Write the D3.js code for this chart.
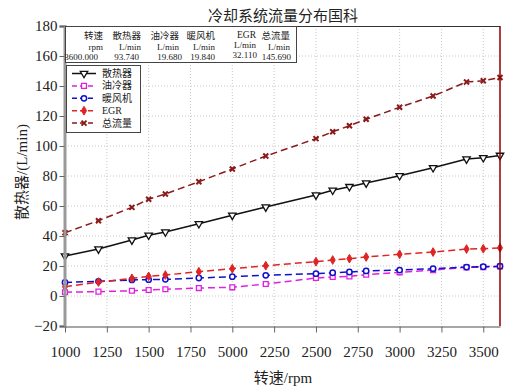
<!DOCTYPE html>
<html>
<head>
<meta charset="utf-8">
<script src="https://cdn.jsdelivr.net/npm/d3@7/dist/d3.min.js"></script>
<style>
  body { margin: 0; background: #fff; }
  text { font-family: "Liberation Serif", "DejaVu Serif", "Noto Sans CJK SC", serif; }
</style>
</head>
<body>
<svg></svg>
<script>
var svgWidth = 511;
var svgHeight = 392;

/* data */
var rpm = [1000, 1200, 1400, 1500, 1600, 1800, 2000, 2200, 2500, 2600, 2700, 2800, 3000, 3200, 3400, 3500, 3600];
var radiator = [26.7, 31.3, 37.3, 40.5, 42.7, 48.2, 53.8, 59.3, 67.3, 70.5, 72.9, 75.3, 80.2, 85.5, 91.3, 92.2, 93.74];
var oilCooler = [2.5, 2.9, 3.5, 4.0, 4.5, 5.3, 5.8, 8.0, 12.0, 12.7, 13.1, 14.2, 15.8, 17.3, 19.1, 19.3, 19.68];
var heater = [9.0, 9.8, 10.7, 10.9, 11.1, 12.0, 12.9, 13.8, 14.9, 15.5, 16.0, 16.7, 17.3, 18.2, 19.3, 19.5, 19.84];
var egr = [6.2, 9.3, 11.8, 13.1, 14.0, 16.2, 18.2, 20.2, 22.9, 24.0, 24.9, 26.0, 27.8, 29.3, 31.3, 31.5, 32.11];
var total = [42.2, 50.2, 59.1, 64.5, 68.0, 76.2, 84.7, 93.3, 104.9, 109.5, 113.5, 117.8, 125.8, 133.3, 142.7, 143.5, 145.69];

var xTicks = [1000, 1250, 1500, 1750, 2000, 2250, 2500, 2750, 3000, 3250, 3500];
var xTickLabels = ['1000', '1250', '1500', '1750', '5000', '2250', '2500', '2750', '3000', '3250', '3500'];
var yTicks = [-20, 0, 20, 40, 60, 80, 100, 120, 140, 160, 180];

/* table at top left */
var tableHead = ['转速', '散热器', '油冷器', '暖风机', 'EGR', '总流量'];
var tableUnit = ['rpm', 'L/min', 'L/min', 'L/min', 'L/min', 'L/min'];
var tableValue = ['3600.000', '93.740', '19.680', '19.840', '32.110', '145.690'];

var series = [
    { name: '散热器', values: radiator, color: '#111', dash: null, marker: 'tri' },
    { name: '油冷器', values: oilCooler, color: '#e020e0', dash: '7,4', marker: 'square' },
    { name: '暖风机', values: heater, color: '#1010cc', dash: '7,4', marker: 'circle' },
    { name: 'EGR', values: egr, color: '#e02424', dash: '7,4', marker: 'diamond' },
    { name: '总流量', values: total, color: '#8b1a1a', dash: '7,4', marker: 'x' }
];

var svg = d3.select('svg')
    .attr('width', svgWidth)
    .attr('height', svgHeight);

var x = d3.scaleLinear().domain([1000, 3600]).range([65, 500]);
var y = d3.scaleLinear().domain([-20, 180]).range([326, 26]);

/* grid */
svg.append('g').selectAll('line.gx')
    .data(xTicks.slice(1))
    .enter().append('line')
    .attr('x1', d => x(d)).attr('x2', d => x(d))
    .attr('y1', y(180)).attr('y2', y(-20))
    .attr('stroke', '#c8c8c8').attr('stroke-dasharray', '1,2');

svg.append('g').selectAll('line.gy')
    .data(yTicks.slice(1, -1))
    .enter().append('line')
    .attr('x1', x(1000)).attr('x2', x(3600))
    .attr('y1', d => y(d)).attr('y2', d => y(d))
    .attr('stroke', '#c8c8c8').attr('stroke-dasharray', '1,2');

/* marker path for one point */
function drawMarker(g, type, color){
    if(type === 'tri'){
        g.append('path').attr('d', d3.symbol(d3.symbolTriangle, 24)())
            .attr('transform', 'rotate(180)')
            .attr('fill', '#fff').attr('stroke', color).attr('stroke-width', 1.3);
    } else if(type === 'square'){
        g.append('path').attr('d', d3.symbol(d3.symbolSquare, 24)())
            .attr('fill', '#fff').attr('stroke', color).attr('stroke-width', 1.3);
    } else if(type === 'circle'){
        g.append('path').attr('d', d3.symbol(d3.symbolCircle, 22)())
            .attr('fill', '#fff').attr('stroke', color).attr('stroke-width', 1.5);
    } else if(type === 'diamond'){
        g.append('path').attr('d', d3.symbol(d3.symbolDiamond, 22)())
            .attr('fill', color).attr('stroke', color);
    } else {
        g.append('path').attr('d', 'M-2.5,-2.5L2.5,2.5M-2.5,2.5L2.5,-2.5')
            .attr('stroke', color).attr('stroke-width', 2).attr('fill', 'none');
    }
}

/* lines and markers */
var line = d3.line().x(d => x(d[0])).y(d => y(d[1]));

series.forEach(s => {
    var pts = rpm.map((r, i) => [r, s.values[i]]);
    svg.append('path')
        .datum(pts)
        .attr('d', line)
        .attr('fill', 'none')
        .attr('stroke', s.color)
        .attr('stroke-width', 1.5)
        .attr('stroke-dasharray', s.dash);

    svg.selectAll(null)
        .data(pts)
        .enter().append('g')
        .attr('transform', d => `translate(${x(d[0])},${y(d[1])})`)
        .each(function(){ drawMarker(d3.select(this), s.marker, s.color); });
});

/* axes */
var yAxis = svg.append('g')
    .attr('transform', 'translate(64.5,0)')
    .call(d3.axisLeft(y).tickValues(yTicks).tickSize(5).tickFormat(d => d < 0 ? '\u2212' + Math.abs(d) : d));
yAxis.select('.domain').attr('stroke', '#999').attr('stroke-width', 3);
yAxis.selectAll('.tick line').attr('stroke', '#666');
yAxis.selectAll('.tick text')
    .attr('font-size', 15).attr('fill', '#222').attr('x', -7)
    .style('font-family', '"Liberation Serif", serif');

var xAxis = svg.append('g')
    .attr('transform', 'translate(0,326.5)')
    .call(d3.axisBottom(x).tickValues(xTicks).tickSize(6).tickSizeOuter(0).tickFormat((d, i) => xTickLabels[i]));
xAxis.select('.domain').attr('stroke', '#888').attr('stroke-width', 1.5);
xAxis.selectAll('.tick line').attr('stroke', '#666');
xAxis.selectAll('.tick text')
    .attr('font-size', 15).attr('fill', '#222').attr('y', 20)
    .style('font-family', '"Liberation Serif", serif');

/* frame on top and right */
svg.append('line')
    .attr('x1', 296).attr('x2', x(3600)).attr('y1', y(180) + 0.5).attr('y2', y(180) + 0.5)
    .attr('stroke', '#333');
svg.append('line')
    .attr('x1', x(3600)).attr('x2', x(3600)).attr('y1', y(180)).attr('y2', y(-20))
    .attr('stroke', '#8b0000').attr('stroke-width', 1.5);

/* title and axis labels */
svg.append('text')
    .text('冷却系统流量分布国科')
    .attr('x', 283).attr('y', 21)
    .attr('text-anchor', 'middle').attr('font-size', 15).attr('fill', '#222');

svg.append('text')
    .text('转速/rpm')
    .attr('x', 283).attr('y', 383)
    .attr('text-anchor', 'middle').attr('font-size', 15).attr('fill', '#222');

svg.append('text')
    .text('散热器/(L/min)')
    .attr('transform', 'translate(27,172) rotate(-90)')
    .attr('text-anchor', 'middle').attr('font-size', 15).attr('fill', '#222');

/* value table box */
var tableRight = [103, 141, 179, 215, 256, 290];
var valueRight = [98, 139, 182, 215, 257, 291];

svg.append('rect')
    .attr('x', 65.5).attr('y', 26.5).attr('width', 231).attr('height', 36)
    .attr('fill', '#fff').attr('stroke', '#444');

svg.selectAll('text.head')
    .data(tableHead)
    .enter().append('text')
    .text(d => d)
    .attr('x', (d, i) => tableRight[i]).attr('y', (d, i) => i === 4 ? 38 : 39)
    .attr('text-anchor', 'end').attr('font-size', 9.5).attr('fill', '#222');

svg.selectAll('text.unit')
    .data(tableUnit)
    .enter().append('text')
    .text(d => d)
    .attr('x', (d, i) => tableRight[i]).attr('y', (d, i) => i === 4 ? 48 : 50)
    .attr('text-anchor', 'end').attr('font-size', 9).attr('fill', '#222');

svg.selectAll('text.val')
    .data(tableValue)
    .enter().append('text')
    .text(d => d)
    .attr('x', (d, i) => valueRight[i]).attr('y', (d, i) => i === 4 ? 58 : 60)
    .attr('text-anchor', 'end').attr('font-size', 9).attr('fill', '#222');

/* legend box */
svg.append('rect')
    .attr('x', 66.5).attr('y', 65.5).attr('width', 74).attr('height', 67)
    .attr('fill', '#fff').attr('stroke', '#444');

var legend = svg.selectAll('g.leg')
    .data(series)
    .enter().append('g')
    .attr('transform', (d, i) => `translate(0,${73.5 + i * 12.4})`);

legend.append('line')
    .attr('x1', 72).attr('x2', 96).attr('y1', 0).attr('y2', 0)
    .attr('stroke', d => d.color).attr('stroke-width', 1.5)
    .attr('stroke-dasharray', d => d.dash ? '5,3' : null);

legend.append('g')
    .attr('transform', 'translate(84,0)')
    .each(function(d){ drawMarker(d3.select(this), d.marker, d.color); });

legend.append('text')
    .text(d => d.name)
    .attr('x', 102).attr('y', 3.5)
    .attr('font-size', 10).attr('fill', '#222');
</script>
</body>
</html>
